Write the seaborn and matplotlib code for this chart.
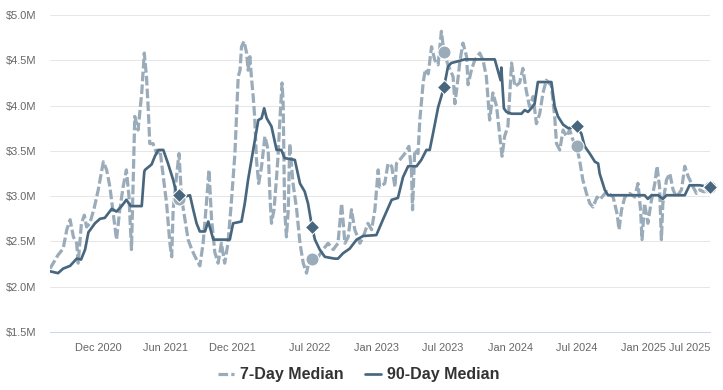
import matplotlib
matplotlib.use("Agg")
import matplotlib.pyplot as plt
import seaborn as sns
import pandas as pd
from matplotlib.ticker import FuncFormatter

# ---------------- data (values in $M) ----------------
dates_7 = [
    "2020-07-21", "2020-08-12", "2020-08-26", "2020-09-05", "2020-09-14", "2020-09-23",
    "2020-10-02", "2020-10-06", "2020-10-15", "2020-10-23", "2020-10-29", "2020-11-07",
    "2020-11-19", "2020-11-30", "2020-12-14", "2020-12-23", "2021-01-01", "2021-01-10",
    "2021-01-19", "2021-01-28", "2021-02-06", "2021-02-15", "2021-02-22", "2021-03-01",
    "2021-03-06", "2021-03-10", "2021-03-19", "2021-03-29", "2021-04-05", "2021-04-11",
    "2021-04-16", "2021-04-20", "2021-04-29", "2021-05-09", "2021-05-18", "2021-05-27",
    "2021-06-05", "2021-06-14", "2021-06-19", "2021-06-23", "2021-07-02", "2021-07-09",
    "2021-07-16", "2021-07-25", "2021-08-03", "2021-08-12", "2021-08-21", "2021-09-04",
    "2021-09-13", "2021-09-22", "2021-09-29", "2021-10-06", "2021-10-15", "2021-10-24",
    "2021-11-02", "2021-11-11", "2021-11-20", "2021-11-29", "2021-12-09", "2021-12-18",
    "2021-12-23", "2021-12-27", "2022-01-03", "2022-01-10", "2022-01-14", "2022-01-19",
    "2022-01-23", "2022-01-28", "2022-02-01", "2022-02-06", "2022-02-12", "2022-02-20",
    "2022-03-01", "2022-03-10", "2022-03-15", "2022-03-19", "2022-03-26", "2022-04-02",
    "2022-04-06", "2022-04-11", "2022-04-17", "2022-04-20", "2022-04-24", "2022-04-29",
    "2022-05-04", "2022-05-08", "2022-05-17", "2022-05-27", "2022-06-05", "2022-06-14",
    "2022-06-23", "2022-07-02", "2022-07-08", "2022-07-25", "2022-08-07", "2022-08-21",
    "2022-09-04", "2022-09-17", "2022-09-27", "2022-10-06", "2022-10-15", "2022-10-24",
    "2022-11-02", "2022-11-16", "2022-11-25", "2022-12-08", "2022-12-18", "2022-12-27",
    "2023-01-05", "2023-01-09", "2023-01-23", "2023-02-01", "2023-02-11", "2023-02-20",
    "2023-02-24", "2023-03-05", "2023-03-19", "2023-03-30", "2023-04-06", "2023-04-09",
    "2023-04-15", "2023-04-24", "2023-04-29", "2023-05-08", "2023-05-14", "2023-05-22",
    "2023-05-31", "2023-06-09", "2023-06-18", "2023-06-27", "2023-07-04", "2023-07-15",
    "2023-07-29", "2023-08-03", "2023-08-12", "2023-08-16", "2023-08-25", "2023-09-04",
    "2023-09-08", "2023-09-17", "2023-09-26", "2023-10-10", "2023-10-19", "2023-10-28",
    "2023-11-06", "2023-11-15", "2023-11-25", "2023-12-04", "2023-12-10", "2023-12-17",
    "2023-12-26", "2024-01-05", "2024-01-14", "2024-01-27", "2024-02-05", "2024-02-14",
    "2024-02-23", "2024-03-04", "2024-03-13", "2024-03-22", "2024-03-31", "2024-04-09",
    "2024-04-23", "2024-05-02", "2024-05-07", "2024-05-16", "2024-05-25", "2024-06-03",
    "2024-06-12", "2024-06-21", "2024-07-01", "2024-07-09", "2024-07-18", "2024-07-28",
    "2024-08-06", "2024-08-15", "2024-08-26", "2024-09-02", "2024-09-21", "2024-10-09",
    "2024-10-20", "2024-10-25", "2024-11-01", "2024-11-10", "2024-11-23", "2024-12-07",
    "2024-12-16", "2024-12-23", "2024-12-27", "2025-01-03", "2025-01-12", "2025-01-22",
    "2025-01-31", "2025-02-06", "2025-02-13", "2025-02-18", "2025-02-22", "2025-03-04",
    "2025-03-13", "2025-03-22", "2025-03-31", "2025-04-14", "2025-04-23", "2025-05-02",
    "2025-05-16", "2025-05-25", "2025-06-03", "2025-06-12", "2025-06-21", "2025-07-01",
]
median_7 = [
    2.20, 2.35, 2.42, 2.63, 2.74, 2.55,
    2.48, 2.26, 2.70, 2.79, 2.66, 2.70,
    2.87, 3.07, 3.38, 3.29, 3.10, 2.81,
    2.52, 2.85, 3.10, 3.29, 3.00, 2.41,
    3.22, 3.88, 3.73, 4.14, 4.58, 4.32,
    3.95, 3.58, 3.58, 3.47, 3.51, 3.21,
    2.92, 2.48, 2.33, 2.85, 3.21, 3.47,
    2.98, 2.75, 2.52, 2.42, 2.34, 2.23,
    2.48, 2.92, 3.29, 2.75, 2.38, 2.26,
    2.48, 2.26, 2.48, 2.92, 3.47, 4.32,
    4.39, 4.65, 4.71, 4.58, 4.39, 4.54,
    4.32, 4.10, 3.88, 3.40, 3.14, 3.33,
    3.66, 3.51, 2.99, 2.70, 2.85, 3.21,
    3.44, 3.84, 4.25, 4.03, 2.85, 2.55,
    2.85, 3.58, 3.14, 2.85, 2.48, 2.26,
    2.15, 2.33, 2.31, 2.33, 2.41, 2.48,
    2.41, 2.48, 2.92, 2.48, 2.55, 2.85,
    2.63, 2.48, 2.55, 2.70, 2.63, 2.85,
    3.29, 3.10, 3.14, 3.36, 3.33, 3.10,
    3.36, 3.40, 3.47, 3.55, 3.29, 2.85,
    3.51, 3.47, 3.84, 4.25, 4.40, 4.35,
    4.65, 4.50, 4.45, 4.82, 4.59, 4.45,
    4.32, 4.02, 4.32, 4.47, 4.69, 4.54,
    4.23, 4.39, 4.50, 4.58, 4.50, 4.32,
    3.84, 4.14, 3.99, 3.66, 3.44, 3.66,
    3.77, 4.47, 4.21, 4.25, 4.41, 4.17,
    3.99, 4.10, 3.80, 3.91, 4.14, 4.28,
    4.22, 3.88, 3.58, 3.51, 3.73, 3.66,
    3.73, 3.62, 3.55, 3.40, 3.18, 3.03,
    2.92, 2.88, 2.99, 2.96, 3.05, 2.99,
    2.80, 2.63, 2.85, 2.99, 3.03, 2.99,
    3.14, 2.85, 2.52, 2.92, 2.70, 2.96,
    3.14, 3.33, 3.10, 2.52, 2.92, 3.18,
    3.25, 3.07, 2.99, 3.07, 3.33, 3.22,
    3.10, 3.03, 3.07, 3.05, 3.05, 3.07,
]

dates_90 = [
    "2020-07-21", "2020-08-12", "2020-08-26", "2020-09-14", "2020-10-02", "2020-10-14",
    "2020-10-25", "2020-11-03", "2020-11-21", "2020-12-05", "2020-12-18", "2021-01-06",
    "2021-01-19", "2021-02-02", "2021-02-15", "2021-02-27", "2021-03-29", "2021-04-05",
    "2021-04-07", "2021-04-25", "2021-05-04", "2021-05-13", "2021-05-27", "2021-06-09",
    "2021-06-23", "2021-07-02", "2021-07-08", "2021-07-20", "2021-08-08", "2021-08-17",
    "2021-08-26", "2021-09-04", "2021-09-18", "2021-09-27", "2021-10-11", "2021-11-25",
    "2021-12-04", "2021-12-27", "2022-01-05", "2022-01-14", "2022-01-28", "2022-02-11",
    "2022-02-20", "2022-02-27", "2022-03-06", "2022-03-19", "2022-04-02", "2022-04-15",
    "2022-04-24", "2022-05-22", "2022-06-05", "2022-06-18", "2022-06-27", "2022-07-08",
    "2022-07-16", "2022-07-29", "2022-08-12", "2022-09-08", "2022-09-17", "2022-10-01",
    "2022-10-19", "2022-11-07", "2022-11-25", "2022-12-31", "2023-01-18", "2023-02-11",
    "2023-02-28", "2023-03-14", "2023-03-28", "2023-04-20", "2023-05-03", "2023-05-17",
    "2023-05-26", "2023-06-04", "2023-06-18", "2023-07-04", "2023-07-15", "2023-07-24",
    "2023-08-12", "2023-08-30", "2023-11-20", "2023-12-06", "2023-12-08", "2023-12-15",
    "2023-12-22", "2024-01-05", "2024-02-01", "2024-02-10", "2024-02-19", "2024-02-28",
    "2024-03-08", "2024-03-17", "2024-04-23", "2024-05-02", "2024-05-11", "2024-05-25",
    "2024-06-08", "2024-06-26", "2024-07-01", "2024-07-14", "2024-07-23", "2024-08-06",
    "2024-08-20", "2024-08-29", "2024-09-02", "2024-09-16", "2024-09-25", "2024-10-13",
    "2025-01-03", "2025-01-12", "2025-01-22", "2025-02-09", "2025-02-22", "2025-03-04",
    "2025-04-23", "2025-05-06", "2025-06-03", "2025-07-01",
]
median_90 = [
    2.17, 2.15, 2.20, 2.23, 2.31, 2.30,
    2.41, 2.60, 2.70, 2.75, 2.76, 2.86,
    2.83, 2.89, 2.96, 2.89, 2.89, 3.27,
    3.29, 3.35, 3.44, 3.51, 3.51, 3.36,
    3.18, 3.03, 3.01, 2.99, 3.01, 2.85,
    2.70, 2.61, 2.61, 2.72, 2.52, 2.52,
    2.70, 2.72, 2.92, 3.18, 3.51, 3.84,
    3.86, 3.97, 3.86, 3.77, 3.51, 3.51,
    3.42, 3.40, 3.14, 3.05, 2.92, 2.66,
    2.52, 2.41, 2.33, 2.31, 2.31, 2.37,
    2.42, 2.52, 2.56, 2.57, 2.74, 2.96,
    2.98, 3.21, 3.33, 3.33, 3.40, 3.51,
    3.51, 3.69, 3.98, 4.20, 4.43, 4.47,
    4.49, 4.51, 4.51, 4.28, 4.42, 3.97,
    3.93, 3.91, 3.91, 3.95, 3.93, 3.97,
    4.02, 4.26, 4.26, 3.99, 3.88, 3.79,
    3.75, 3.76, 3.77, 3.69, 3.55, 3.47,
    3.38, 3.36, 3.25, 3.07, 3.01, 3.01,
    3.01, 2.97, 3.01, 3.01, 2.97, 3.01,
    3.01, 3.12, 3.12, 3.10,
]

# year-over-year comparison points
marker_dates = ["2021-07-08", "2022-07-08", "2023-07-04", "2024-07-01", "2025-07-01"]
marker_7 = [2.97, 2.31, 4.59, 3.55, 3.10]
marker_90 = [3.01, 2.66, 4.20, 3.77, 3.10]

tick_labels = ["Dec 2020", "Jun 2021", "Dec 2021", "Jul 2022", "Jan 2023",
               "Jul 2023", "Jan 2024", "Jul 2024", "Jan 2025", "Jul 2025"]
y_ticks = [1.5, 2.0, 2.5, 3.0, 3.5, 4.0, 4.5, 5.0]
x_range = ["2020-07-21", "2025-07-01"]

# ---------------- style ----------------
GRAY = "#9aabb9"
DARK = "#48677f"
PX = 72 / 100  # points per pixel at dpi 100

sns.set_style("white")
plt.rcParams['font.family'] = ['Liberation Sans', 'DejaVu Sans']

fig = plt.figure(figsize=(7.23, 3.90), dpi=100)
ax = fig.add_axes([50 / 723, 1 - 332 / 390, 660 / 723, 317 / 390])

d7 = pd.to_datetime(dates_7)
d90 = pd.to_datetime(dates_90)
dm = pd.to_datetime(marker_dates)

sns.lineplot(x=d7, y=median_7, ax=ax, color=GRAY, linewidth=3.2 * PX,
             linestyle=(0, (3, 1)), label="7-Day Median", sort=False,
             errorbar=None, zorder=2)
sns.lineplot(x=d90, y=median_90, ax=ax, color=DARK, linewidth=2.7 * PX,
             label="90-Day Median", sort=False, errorbar=None, zorder=3)

ax.scatter(dm, marker_7, marker="o", s=(13 * PX) ** 2, color=GRAY,
           edgecolor="white", linewidth=1 * PX, zorder=4, clip_on=False)
ax.scatter(dm, marker_90, marker="D", s=(10 * PX) ** 2, color=DARK,
           edgecolor="white", linewidth=1 * PX, zorder=5, clip_on=False)

# axes
ax.set_xlim(pd.to_datetime(x_range[0]), pd.to_datetime(x_range[1]))
ax.set_ylim(y_ticks[0], y_ticks[-1])
ax.set_yticks(y_ticks)
ax.yaxis.set_major_formatter(FuncFormatter(lambda v, p: f"${v:.1f}M"))
ax.set_xticks(pd.to_datetime(tick_labels, format="%b %Y"), tick_labels)
ax.set_xlabel("")
ax.set_ylabel("")

ax.grid(axis="y", color="#e6e6e6", linewidth=1 * PX, zorder=0)
ax.grid(axis="x", visible=False)
for s in ["top", "right", "left"]:
    ax.spines[s].set_visible(False)
ax.spines["bottom"].set_color("#ccd6eb")
ax.spines["bottom"].set_linewidth(1 * PX)

ax.tick_params(axis="x", length=8 * PX, width=1 * PX, color="#ccd6eb",
               labelcolor="#666666", labelsize=11 * PX, pad=2)
ax.tick_params(axis="y", length=0, labelcolor="#666666",
               labelsize=11 * PX, pad=14 * PX)
# last label kept inside the canvas, as in the reference
ax.get_xticklabels()[-1].set_horizontalalignment("right")

# legend
handles, labels = ax.get_legend_handles_labels()
ax.get_legend().remove()
fig.legend(handles, labels, loc="center", bbox_to_anchor=(0.496, 1 - 375 / 390),
           ncol=2, frameon=False, prop={"weight": "bold", "size": 16 * PX},
           labelcolor="#333333", handlelength=1.0, handletextpad=0.4,
           columnspacing=1.3)

fig.savefig("out.png", dpi=100)
